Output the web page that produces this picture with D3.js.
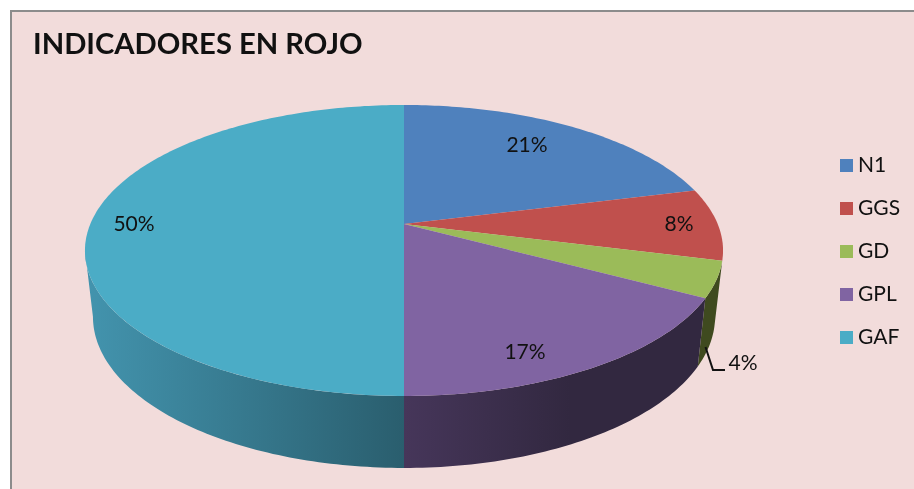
<!DOCTYPE html>
<html lang="en">
<head>
<meta charset="UTF-8">
<title>Indicadores en rojo</title>
<script src="https://d3js.org/d3.v7.min.js"></script>
<style>
    html, body { margin: 0; padding: 0; background: #fff; }
    svg { display: block; filter: blur(0.35px); }
    text { font-family: Lato, sans-serif; fill: #111; }
</style>
</head>
<body>
<svg width="914" height="489"></svg>
<script>
const chartTitle = "INDICADORES EN ROJO";
const categories = ["N1", "GGS", "GD", "GPL", "GAF"];
const values = [21, 8, 4, 17, 50];
const valueLabels = ["21%", "8%", "4%", "17%", "50%"];
const colors = ["#4f81bd", "#c0504d", "#9bbb59", "#8064a2", "#4bacc6"];
// only these slices show a side wall
const wallCategories = ["GD", "GPL", "GAF"];
// side wall shading, left to right across each slice
const sideLight = ["#4f81bd", "#c0504d", "#3f4a1f", "#46365a", "#4394ae"];
const sideDark = ["#4f81bd", "#c0504d", "#3f4a1f", "#322840", "#2a5e6e"];
const labelSpots = [[527, 145], [679, 224], [743, 363], [525, 352], [134, 224]];

const width = 914, height = 489;
const svg = d3.select("svg");

// chart area: grey line only on top and left
svg.append("rect").attr("x", 11).attr("y", 11).attr("width", width).attr("height", height)
    .attr("fill", "#f2dcdb").attr("stroke", "#8c8c8c").attr("stroke-width", 2);

svg.append("text").attr("x", 33).attr("y", 54)
    .attr("font-size", 29.2).attr("font-weight", 700).text(chartTitle);

// perspective projection of the unit disc onto the page
const cx = 404, cy = 224, k = 0.182, radiusX = 313.7, radiusY = 99.9;
const depth = 65.1, shrink = 0.975;
function topPoint(t) {
    const u = Math.sin(t), v = Math.cos(t), w = 1 + k * v;
    return [cx + radiusX * u / w, (cy - radiusY * v) / w];
}
function bottomPoint(t) {
    const p = topPoint(t), w = 1 + k * Math.cos(t);
    return [cx + (p[0] - cx) * shrink, p[1] + depth / Math.sqrt(w)];
}
function rim(fn, a0, a1) {
    const n = Math.max(2, Math.ceil((a1 - a0) * 60));
    return d3.range(n + 1).map(i => fn(a0 + (a1 - a0) * i / n));
}

const slices = d3.pie().sort(null)(values);
const line = d3.line();
const defs = svg.append("defs");

// the wall turns away from the viewer at the left extreme of the rim
const wallEnd = 1.5 * Math.PI - Math.asin(k);

// side walls first, faces go on top
slices.forEach((s, i) => {
    if (!wallCategories.includes(categories[i])) return;
    const end = Math.min(s.endAngle, wallEnd);
    const topRim = rim(topPoint, s.startAngle, end);
    const botRim = rim(bottomPoint, s.startAngle, end);
    const xs = topRim.concat(botRim).map(p => p[0]);
    const grad = defs.append("linearGradient").attr("id", "side" + i)
        .attr("gradientUnits", "userSpaceOnUse")
        .attr("x1", d3.min(xs)).attr("x2", d3.max(xs)).attr("y1", 0).attr("y2", 0);
    grad.append("stop").attr("offset", 0).attr("stop-color", sideLight[i]);
    grad.append("stop").attr("offset", i === 3 ? 0.55 : 1).attr("stop-color", sideDark[i]);
    svg.append("path")
        .attr("d", line(topRim.concat(botRim.reverse())) + "Z")
        .attr("fill", "url(#side" + i + ")");
});

slices.forEach((s, i) => {
    const pts = [[cx, cy]].concat(rim(topPoint, s.startAngle, s.endAngle));
    svg.append("path").attr("d", line(pts) + "Z").attr("fill", colors[i]);
});

// value labels
valueLabels.forEach((d, i) => {
    svg.append("text").attr("x", labelSpots[i][0]).attr("y", labelSpots[i][1] + 7)
        .attr("text-anchor", "middle").attr("font-size", 21).text(d);
});

// leader line of the 4% label
svg.append("path").attr("d", line([[705.5, 347], [713, 370], [725, 370]]))
    .attr("fill", "none").attr("stroke", "#111").attr("stroke-width", 2);

// legend
const legendY = d3.scalePoint().domain(categories).range([165, 337]);
const legend = svg.selectAll(".legend").data(categories).enter().append("g")
    .attr("class", "legend")
    .attr("transform", d => "translate(840," + legendY(d) + ")");
legend.append("rect").attr("y", -6).attr("width", 13).attr("height", 13)
    .attr("fill", (d, i) => colors[i]);
legend.append("text").attr("x", 18).attr("y", 7).attr("font-size", 21).text(d => d);
</script>
</body>
</html>
